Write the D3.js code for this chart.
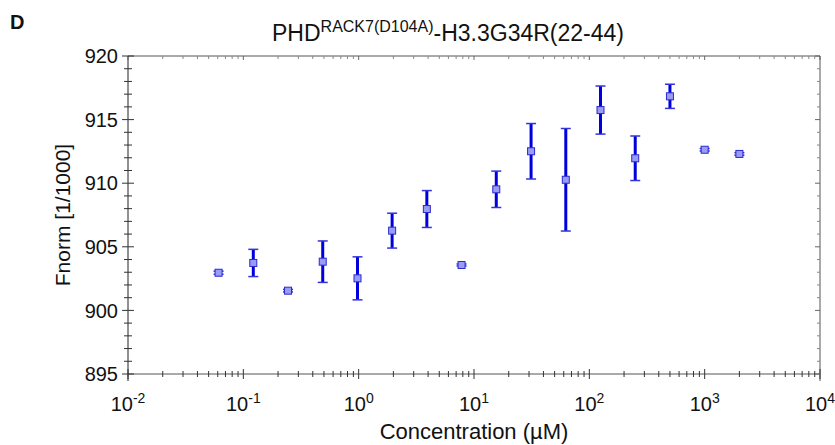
<!DOCTYPE html>
<html>
<head>
<meta charset="utf-8">
<script src="https://cdn.jsdelivr.net/npm/d3@7"></script>
<style>
  body { margin: 0; background: #fff; }
  text { font-family: "Liberation Sans", Arial, sans-serif; }
</style>
</head>
<body>
<svg width="835" height="445"></svg>
<script>
// concentrations in µM (2-fold dilution series)
var conc = [0.061, 0.122, 0.244, 0.488, 0.977, 1.95, 3.9, 7.8, 15.6, 31.25, 62.5, 125, 250, 500, 1000, 2000];
// Fnorm values [1/1000]
var fnorm = [902.96, 903.73, 901.55, 903.83, 902.52, 906.27, 907.97, 903.57, 909.52, 912.51, 910.27, 915.75, 911.96, 916.83, 912.63, 912.30];
// error (±)
var err = [0.12, 1.07, 0.1, 1.63, 1.69, 1.37, 1.45, 0.08, 1.43, 2.18, 4.03, 1.89, 1.75, 0.95, 0.1, 0.1];

var xTicks = [-2, -1, 0, 1, 2, 3, 4];
var yTicks = [895, 900, 905, 910, 915, 920];

var data = conc.map(function(c, i) { return {c: c, f: fnorm[i], e: err[i]}; });

var svg = d3.select("svg"),
    margin = {top: 56, right: 15, bottom: 71, left: 128},
    width = +svg.attr("width") - margin.left - margin.right,
    height = +svg.attr("height") - margin.top - margin.bottom,
    g = svg.append("g").attr("transform", "translate(" + margin.left + "," + margin.top + ")");

var x = d3.scaleLog().domain([1e-2, 1e4]).range([0, width]);
var y = d3.scaleLinear().domain([895, 920]).range([height, 0]);

var axisColor = "#555";

// minor ticks for log axis
var minorX = [];
for (var p = -2; p < 4; p++) {
  for (var m = 2; m <= 9; m++) minorX.push(m * Math.pow(10, p));
}
var minorY = d3.range(895, 921, 1).filter(function(v) { return v % 5 !== 0; });

// frame lines
g.append("line").attr("x1", 0).attr("x2", width).attr("y1", 0).attr("y2", 0).attr("stroke", axisColor);
g.append("line").attr("x1", 0).attr("x2", width).attr("y1", height).attr("y2", height).attr("stroke", axisColor);
g.append("line").attr("x1", 0).attr("x2", 0).attr("y1", 0).attr("y2", height + 7).attr("stroke", "#222");
g.append("line").attr("x1", width).attr("x2", width).attr("y1", 0).attr("y2", height + 7).attr("stroke", axisColor);

// bottom ticks (crossing)
g.selectAll(".bx").data(xTicks).enter().append("line")
    .attr("x1", function(d) { return x(Math.pow(10, d)); })
    .attr("x2", function(d) { return x(Math.pow(10, d)); })
    .attr("y1", height - 5).attr("y2", height + 5)
    .attr("stroke", "#333");
g.selectAll(".bxm").data(minorX).enter().append("line")
    .attr("x1", function(d) { return x(d); })
    .attr("x2", function(d) { return x(d); })
    .attr("y1", height - 3).attr("y2", height + 3)
    .attr("stroke", "#333");
// top ticks (inside)
g.selectAll(".tx").data(xTicks).enter().append("line")
    .attr("x1", function(d) { return x(Math.pow(10, d)); })
    .attr("x2", function(d) { return x(Math.pow(10, d)); })
    .attr("y1", 0).attr("y2", 4)
    .attr("stroke", "#666");
g.selectAll(".txm").data(minorX).enter().append("line")
    .attr("x1", function(d) { return x(d); })
    .attr("x2", function(d) { return x(d); })
    .attr("y1", 0).attr("y2", 3)
    .attr("stroke", "#888");

// left ticks (crossing)
g.selectAll(".ly").data(yTicks).enter().append("line")
    .attr("x1", -6).attr("x2", 6)
    .attr("y1", function(d) { return y(d); })
    .attr("y2", function(d) { return y(d); })
    .attr("stroke", "#333");
g.selectAll(".lym").data(minorY).enter().append("line")
    .attr("x1", -4).attr("x2", 4)
    .attr("y1", function(d) { return y(d); })
    .attr("y2", function(d) { return y(d); })
    .attr("stroke", "#333");
// right ticks (inside)
g.selectAll(".ry").data(yTicks).enter().append("line")
    .attr("x1", width - 5).attr("x2", width)
    .attr("y1", function(d) { return y(d); })
    .attr("y2", function(d) { return y(d); })
    .attr("stroke", "#666");
g.selectAll(".rym").data(minorY).enter().append("line")
    .attr("x1", width - 3).attr("x2", width)
    .attr("y1", function(d) { return y(d); })
    .attr("y2", function(d) { return y(d); })
    .attr("stroke", "#888");

// y tick labels
g.selectAll(".yl").data(yTicks).enter().append("text")
    .attr("x", -10)
    .attr("y", function(d) { return y(d); })
    .attr("dy", "0.36em")
    .attr("text-anchor", "end")
    .attr("font-size", 20)
    .attr("fill", "#111")
    .text(function(d) { return d; });

// x tick labels 10^n
var xl = g.selectAll(".xl").data(xTicks).enter().append("text")
    .attr("x", function(d) { return x(Math.pow(10, d)); })
    .attr("y", height + 37)
    .attr("text-anchor", "middle")
    .attr("font-size", 20)
    .attr("fill", "#111");
xl.append("tspan").text("10");
xl.append("tspan").attr("dy", -8).attr("font-size", 14).text(function(d) { return d; });

// axis titles
g.append("text")
    .attr("x", width / 2)
    .attr("y", height + 65)
    .attr("text-anchor", "middle")
    .attr("font-size", 22)
    .attr("fill", "#111")
    .text("Concentration (µM)");

g.append("text")
    .attr("transform", "translate(-58," + (height / 2) + ") rotate(-90)")
    .attr("text-anchor", "middle")
    .attr("font-size", 21)
    .attr("fill", "#111")
    .text("Fnorm [1/1000]");

// title
var title = svg.append("text")
    .attr("x", 448)
    .attr("y", 41)
    .attr("text-anchor", "middle")
    .attr("font-size", 23)
    .attr("fill", "#111");
title.append("tspan").text("PHD");
title.append("tspan").attr("dy", -9).attr("font-size", 16).text("RACK7(D104A)");
title.append("tspan").attr("dy", 9).text("-H3.3G34R(22-44)");

svg.append("text")
    .attr("x", 10).attr("y", 29)
    .attr("font-size", 20)
    .attr("font-weight", "bold")
    .attr("fill", "#111")
    .text("D");

// error bars
var pts = g.selectAll(".pt").data(data).enter().append("g");
pts.append("line")
    .attr("x1", function(d) { return x(d.c); })
    .attr("x2", function(d) { return x(d.c); })
    .attr("y1", function(d) { return y(d.f - d.e); })
    .attr("y2", function(d) { return y(d.f + d.e); })
    .attr("stroke", "#0000dd")
    .attr("stroke-width", 3);
[-1, 1].forEach(function(s) {
  pts.append("line")
      .attr("x1", function(d) { return x(d.c) - 5; })
      .attr("x2", function(d) { return x(d.c) + 5; })
      .attr("y1", function(d) { return y(d.f + s * d.e); })
      .attr("y2", function(d) { return y(d.f + s * d.e); })
      .attr("stroke", "#3333dd")
      .attr("stroke-width", 1.5);
});
// markers
pts.append("rect")
    .attr("x", function(d) { return x(d.c) - 3.5; })
    .attr("y", function(d) { return y(d.f) - 3.5; })
    .attr("width", 7).attr("height", 7)
    .attr("fill", "#9a9cf4")
    .attr("stroke", "#2a2ad0")
    .attr("stroke-width", 1);
</script>
</body>
</html>
